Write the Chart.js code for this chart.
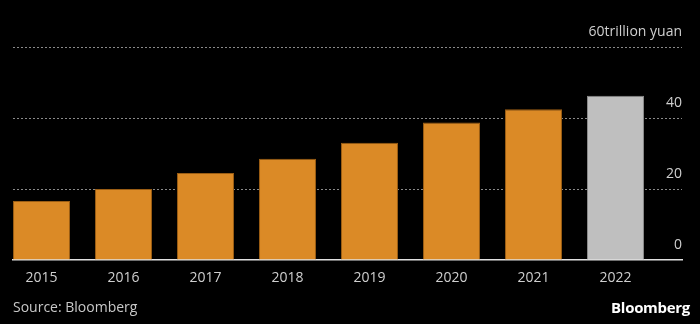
<!DOCTYPE html>
<html>
<head>
<meta charset="utf-8">
<script src="https://cdn.jsdelivr.net/npm/chart.js@4"></script>
<style>
  body { margin: 0; background: #000; }
  #wrap { position: relative; width: 700px; height: 324px; background: #000; }
  #source { position: absolute; left: 13px; top: 297px; color: #c8c8c8; font: 14px "Open Sans", sans-serif; }
  #logo { position: absolute; right: 10px; top: 297px; color: #fff; font: bold 15px "Open Sans", sans-serif; letter-spacing: -0.3px; }
</style>
</head>
<body>
<div id="wrap">
  <canvas id="chart"></canvas>
  <div id="source">Source: Bloomberg</div>
  <div id="logo">Bloomberg</div>
</div>
<script>
// --------------- data --------------- //
const years = [2015, 2016, 2017, 2018, 2019, 2020, 2021, 2022];
const values = [16.6, 20.0, 24.5, 28.5, 33.0, 38.7, 42.5, 46.3];
const yTicks = [0, 20, 40, 60];
const unitLabel = 'trillion yuan';

// last year is shown in grey
const fillColors = years.map((y, i) => i === years.length - 1 ? '#bfbfbf' : '#db8a26');
const edgeColors = years.map((y, i) => i === years.length - 1 ? '#8a8a8a' : '#9a5d14');

const chartData = {
  datasets: [{
    label: 'Value',
    data: years.map((y, i) => ({ x: y, y: values[i] })),
    backgroundColor: fillColors,
    borderColor: edgeColors,
    borderWidth: 1,
    categoryPercentage: 1,
    barPercentage: 0.695,
  }]
};

const chartOptions = {
  responsive: true,
  maintainAspectRatio: false,
  animation: false,
  layout: {
    padding: { top: 47, left: 13, right: 18, bottom: 39 }
  },
  plugins: {
    legend: { display: false },
    tooltip: { enabled: false },
  },
  scales: {
    x: {
      type: 'linear',
      offset: false,
      min: years[0] - 0.3476,
      max: years[0] + 7.811,
      grid: { display: false, offset: false },
      border: { display: true, color: '#e0e0e0', width: 1.5 },
      afterFit: (scale) => { scale.height = 25; },
      ticks: {
        stepSize: 1,
        includeBounds: false,
        color: '#cfcfcf',
        padding: 2,
        maxRotation: 0,
        autoSkip: false,
        font: { family: 'Open Sans', size: 14 },
        callback: (v) => years.includes(v) ? String(v) : '',
      }
    },
    y: {
      position: 'right',
      min: yTicks[0],
      max: yTicks[yTicks.length - 1],
      afterBuildTicks: (scale) => { scale.ticks = yTicks.map(v => ({ value: v })); },
      grid: {
        drawTicks: false,
        color: (ctx) => ctx.tick && ctx.tick.value === 0 ? 'rgba(0,0,0,0)' : '#8a8a8a',
        lineWidth: 1,
      },
      border: { display: false, dash: [2, 2] },
      ticks: {
        mirror: true,
        padding: 0,
        labelOffset: -15,
        color: '#cfcfcf',
        font: { family: 'Open Sans', size: 14 },
        callback: (v) => v === yTicks[yTicks.length - 1] ? v + unitLabel : v,
      }
    }
  }
};

const chart = new Chart(document.getElementById('chart'), {
  type: 'bar',
  data: chartData,
  options: chartOptions
});
</script>
</body>
</html>
